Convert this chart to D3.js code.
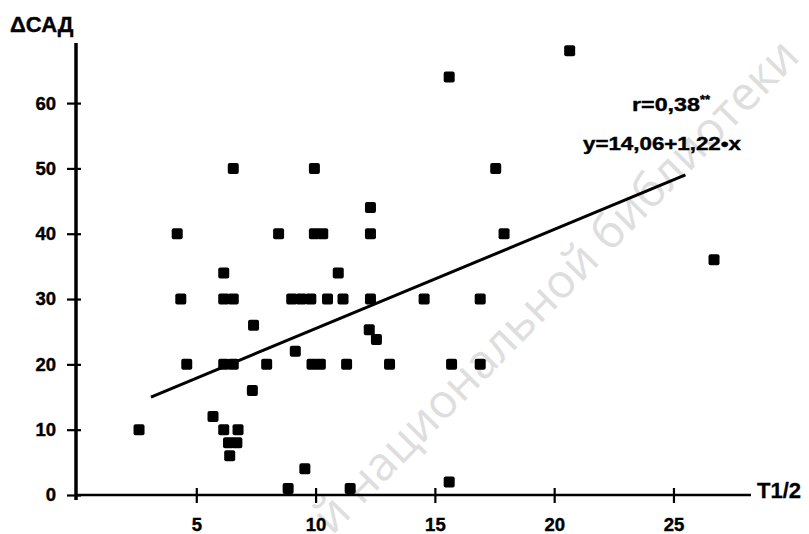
<!DOCTYPE html>
<html>
<head>
<meta charset="utf-8">
<script src="https://cdn.jsdelivr.net/npm/d3@7"></script>
<style>
  body { margin: 0; background: #fff; }
  text { font-family: "Liberation Sans", Arial, sans-serif; font-weight: bold; }
</style>
</head>
<body>
<svg id="chart" width="809" height="534"></svg>
<script>
// points: T1/2 (x) and ΔСАД (y)
const ptX = [2.6, 4.2, 4.35, 4.6, 5.7, 6.15, 6.15, 6.55, 6.55, 6.15, 6.55, 6.15, 6.75, 6.35, 6.7, 6.4,
             7.4, 7.35, 7.95, 8.45, 8.85, 9.0, 9.4, 9.8, 9.15, 9.55, 9.85, 10.2, 9.95, 9.95, 10.3, 10.5,
             10.95, 11.15, 11.3, 11.45, 12.3, 12.3, 12.3, 12.25, 12.55, 13.1, 14.55, 15.6, 15.7, 15.6,
             16.9, 16.9, 17.55, 17.9, 20.65, 26.7]
const ptY = [10, 40, 30, 20, 12, 34, 30, 30, 50, 20, 20, 10, 10, 8, 8, 6,
             26, 16, 20, 40, 1, 30, 30, 30, 22, 4, 20, 20, 50, 40, 40, 30,
             34, 30, 20, 1, 44, 40, 30, 25.3, 23.8, 20, 30, 64, 20, 2,
             30, 20, 50, 40, 68, 36]

// regression line as drawn (end points)
const lineX = [3.1, 25.5]
const lineY = [15.0, 49.0]

const xTicks = [5, 10, 15, 20, 25]
const yTicks = [0, 10, 20, 30, 40, 50, 60]

const svg = d3.select('#chart')

const x = d3.scaleLinear().domain([0, 28.25]).range([77, 751])
const y = d3.scaleLinear().domain([0, 69.2]).range([495, 43])

// watermark
svg.append('text')
    .attr('transform', 'translate(332,536) rotate(-45.5)')
    .style('font-family', '"Open Sans", sans-serif')
    .style('font-weight', 'normal')
    .style('font-size', '47px')
    .attr('fill', '#dedede')
    .text('й национальной библиотеки')

// y axis
const yAxis = svg.append('g')
    .attr('transform', 'translate(76,0)')
    .call(d3.axisLeft(y).tickValues(yTicks).tickSizeOuter(0).tickSize(9).tickPadding(11))
yAxis.select('.domain').attr('stroke-width', 3.5).attr('d', 'M0,43V500')
yAxis.selectAll('.tick line').attr('x1', 5).attr('stroke-width', 2.2)
yAxis.selectAll('.tick text').style('font-size', '18.5px').attr('fill', '#000')
    .attr('stroke', '#000').attr('stroke-width', 0.4)

// x axis
const xAxis = svg.append('g')
    .attr('transform', 'translate(0,495)')
    .call(d3.axisBottom(x).tickValues(xTicks).tickSizeOuter(0).tickSize(8).tickPadding(15))
xAxis.select('.domain').attr('stroke-width', 2.6).attr('d', 'M76,0H751')
xAxis.selectAll('.tick line').attr('y1', -7).attr('stroke-width', 2.2)
xAxis.selectAll('.tick text').style('font-size', '18.5px').attr('fill', '#000')
    .attr('stroke', '#000').attr('stroke-width', 0.4)

// axis titles
svg.append('text').attr('x', 10).attr('y', 32).style('font-size', '22px')
    .attr('stroke', '#000').attr('stroke-width', 0.4).text('ΔСАД')
svg.append('text').attr('x', 757).attr('y', 498).style('font-size', '22px')
    .attr('stroke', '#000').attr('stroke-width', 0.3).text('T1/2')

// regression line
svg.append('line')
    .attr('x1', x(lineX[0])).attr('y1', y(lineY[0]))
    .attr('x2', x(lineX[1])).attr('y2', y(lineY[1]))
    .attr('stroke', '#000').attr('stroke-width', 3)

// points
svg.append('g').selectAll('rect')
    .data(ptX.map((d, i) => [d, ptY[i]]))
    .join('rect')
    .attr('x', d => x(d[0]) - 5.5)
    .attr('y', d => y(d[1]) - 5.5)
    .attr('width', 11).attr('height', 11)
    .attr('rx', 2)
    .attr('fill', '#000')

// annotation
const r = svg.append('text').attr('x', 632).attr('y', 111).style('font-size', '19px')
    .attr('stroke', '#000').attr('stroke-width', 0.4)
r.append('tspan').attr('textLength', 68).attr('lengthAdjust', 'spacingAndGlyphs').text('r=0,38')
r.append('tspan').attr('dy', -7).style('font-size', '13px').text('**')
svg.append('text').attr('x', 583).attr('y', 150).style('font-size', '18px')
    .attr('textLength', 158).attr('lengthAdjust', 'spacingAndGlyphs')
    .attr('stroke', '#000').attr('stroke-width', 0.4)
    .text('y=14,06+1,22•x')
</script>
</body>
</html>
